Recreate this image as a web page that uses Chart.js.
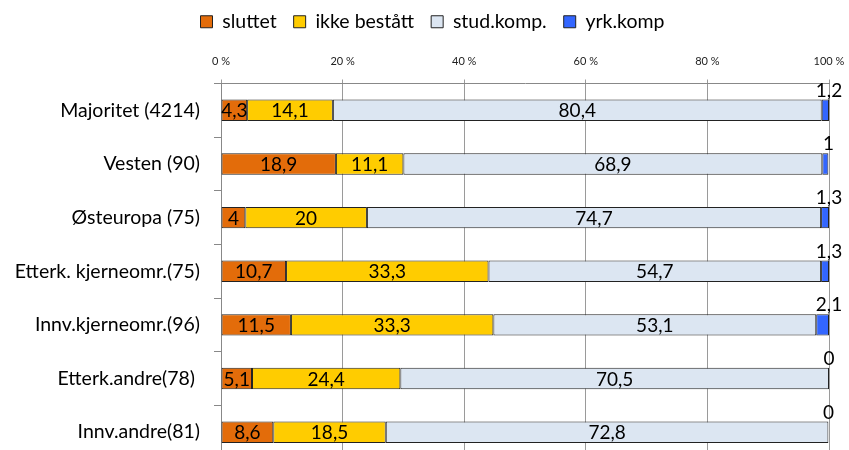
<!DOCTYPE html>
<html>
<head>
<meta charset="utf-8">
<script src="https://cdn.jsdelivr.net/npm/chart.js@4"></script>
<style>
  html, body { margin: 0; padding: 0; overflow: hidden; background: #fff; }
  canvas { display: block; }
</style>
</head>
<body>
<canvas id="c" width="849" height="460"></canvas>
<script>
const categories = [
  "Majoritet (4214)",
  "Vesten (90)",
  "Østeuropa (75)",
  "Etterk. kjerneomr.(75)",
  "Innv.kjerneomr.(96)",
  "Etterk.andre(78) ",
  "Innv.andre(81)"
];
const seriesNames = ["sluttet", "ikke bestått", "stud.komp.", "yrk.komp"];
const sluttet    = [4.3, 18.9, 4, 10.7, 11.5, 5.1, 8.6];
const ikkeBestatt = [14.1, 11.1, 20, 33.3, 33.3, 24.4, 18.5];
const studKomp   = [80.4, 68.9, 74.7, 54.7, 53.1, 70.5, 72.8];
const yrkKomp    = [1.2, 1, 1.3, 1.3, 2.1, 0, 0];
const xTicks = [0, 20, 40, 60, 80, 100];

const FONT = "Lato, 'Liberation Sans', sans-serif";
const colors = ["#E36C0A", "#FFCC00", "#DCE6F2", "#3366FF"];
const values = [sluttet, ikkeBestatt, studKomp, yrkKomp];

const fmt = v => String(v).replace('.', ',');

const labelPlugin = {
  id: 'segLabels',
  afterLayout(chart) {
    if (chart.legend) { chart.legend.left += 36; }
  },
  afterDatasetsDraw(chart) {
    const ctx = chart.ctx;
    ctx.save();
    ctx.font = "19px " + FONT;
    ctx.fillStyle = "#000";
    ctx.textAlign = "center";
    ctx.textBaseline = "middle";
    chart.data.datasets.forEach((ds, di) => {
      const meta = chart.getDatasetMeta(di);
      meta.data.forEach((el, i) => {
        const v = ds.data[i];
        if (di < 3) {
          ctx.fillText(fmt(v), (el.x + el.base) / 2, el.y + 1);
        } else {
          ctx.fillText(fmt(v), el.x, el.y - el.height / 2 - 9);
        }
      });
    });
    ctx.restore();
  }
};

new Chart(document.getElementById('c'), {
  type: 'bar',
  data: {
    labels: categories,
    datasets: seriesNames.map((n, i) => ({
      label: n,
      data: values[i],
      backgroundColor: colors[i],
      borderColor: "#222",
      borderWidth: 1,
      borderSkipped: false,
      barPercentage: 0.40,
      categoryPercentage: 1
    }))
  },
  options: {
    indexAxis: 'y',
    responsive: false,
    animation: false,
    devicePixelRatio: 1,
    layout: { padding: { left: 0, right: 20, top: -5, bottom: 1 } },
    plugins: {
      legend: {
        position: 'top',
        labels: {
          font: { family: FONT, size: 19.5 },
          color: "#000",
          boxWidth: 12,
          boxHeight: 12,
          padding: 17
        }
      },
      tooltip: { enabled: false }
    },
    scales: {
      x: {
        position: 'top',
        stacked: true,
        min: 0,
        max: 100,
        afterBuildTicks(scale) { scale.ticks = xTicks.map(v => ({ value: v })); },
        afterFit(scale) { scale.height = 42; scale.paddingLeft = 0; scale.paddingRight = 0; },
        ticks: {
          callback: v => v + " %",
          font: { family: FONT, size: 11 },
          color: "#222",
          padding: 11,
          maxRotation: 0
        },
        grid: { color: "#9a9a9a", tickLength: 4, lineWidth: 1 },
        border: { color: "#888", width: 1 }
      },
      y: {
        stacked: true,
        afterFit(scale) { scale.width = 221; scale.paddingTop = 0; scale.paddingBottom = 0; },
        ticks: {
          font: { family: FONT, size: 19.5 },
          color: "#000",
          padding: 14
        },
        grid: { offset: true, drawOnChartArea: false, tickLength: 7, color: "#888" },
        border: { color: "#888", width: 1 }
      }
    }
  },
  plugins: [labelPlugin]
});
</script>
</body>
</html>
